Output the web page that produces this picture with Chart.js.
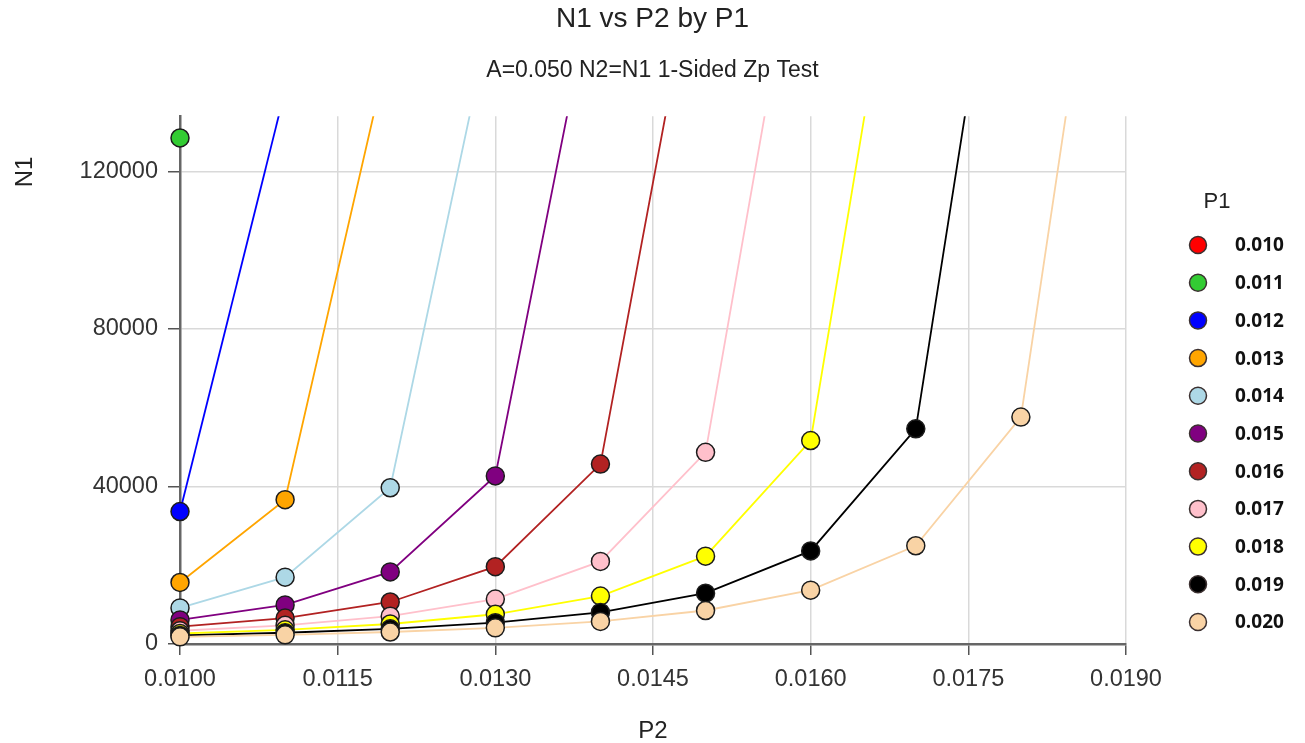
<!DOCTYPE html>
<html>
<head>
<meta charset="utf-8">
<title>N1 vs P2 by P1</title>
<script src="https://cdn.jsdelivr.net/npm/chart.js@4.4.1/dist/chart.umd.min.js"></script>
<style>
  html, body { margin: 0; padding: 0; background: #fff; }
  #wrap { width: 1305px; height: 743px; }
</style>
</head>
<body>
<div id="wrap"><canvas id="chart" width="1305" height="743"></canvas></div>
<script>
/* N1 vs P2 by P1 — one line per P1, N1. */

const p2Values = [0.010, 0.011, 0.012, 0.013, 0.014, 0.015, 0.016, 0.017, 0.018, 0.019];
const p1Labels = ["0.010", "0.011", "0.012", "0.013", "0.014", "0.015", "0.016", "0.017", "0.018", "0.019", "0.020"];
const xTicks = [0.0100, 0.0115, 0.0130, 0.0145, 0.0160, 0.0175, 0.0190];
const yTicks = [0, 40000, 80000, 120000];

// N1 per P2 (same order as p2Values); points past the top run off the plot
const n1_p1_010 = [];
const n1_p1_011 = [128473];
const n1_p1_012 = [33631, 140567];
const n1_p1_013 = [15619, 36651, 152636];
const n1_p1_014 = [9163, 16960, 39665, 164679];
const n1_p1_015 = [6105, 9916, 18298, 42673, 176698];
const n1_p1_016 = [4407, 6587, 10668, 19633, 45675, 188693];
const n1_p1_017 = [3361, 4741, 7068, 11419, 20966, 48670, 200663];
const n1_p1_018 = [2667, 3606, 5075, 7548, 12168, 22296, 51660, 212608];
const n1_p1_019 = [2181, 2855, 3851, 5408, 8027, 12915, 23623, 54643, 224528];
const n1_p1_020 = [1827, 2330, 3042, 4095, 5740, 8504, 13661, 24948, 57620, 236423];

const seriesColors = ["#ff0000", "#33cc33", "#0000ff", "#ffa500", "#add8e6", "#800080",
                      "#b22222", "#ffc0cb", "#ffff00", "#000000", "#f9d3a5"];

const FONT = '"Liberation Sans", Arial, sans-serif';

const series = [n1_p1_010, n1_p1_011, n1_p1_012, n1_p1_013, n1_p1_014, n1_p1_015,
                n1_p1_016, n1_p1_017, n1_p1_018, n1_p1_019, n1_p1_020];

const datasets = series.map((vals, i) => ({
  label: p1Labels[i],
  data: vals.map((y, j) => ({ x: p2Values[j], y })),
  borderColor: seriesColors[i],
  backgroundColor: seriesColors[i],
  pointBackgroundColor: seriesColors[i],
  pointBorderColor: "#1c1c1c",
  pointBorderWidth: 1.5,
  pointRadius: 9,
  borderWidth: 1.8,
  tension: 0,
  order: 20 - i, // later P1 drawn on top
  clip: { left: false, top: 0, right: false, bottom: false },
}));

// legend on the right + rotated "N1" axis title
const sideLabels = {
  id: "sideLabels",
  afterDraw(chart) {
    const ctx = chart.ctx;
    const area = chart.chartArea;
    ctx.save();
    ctx.fillStyle = "#222";
    ctx.font = "22px " + FONT;
    ctx.textAlign = "center";
    ctx.textBaseline = "middle";
    ctx.fillText("P1", area.right + 91, 202);

    chart.data.datasets.forEach((ds, i) => {
      const y = 245 + i * 37.7;
      const cx = area.right + 72;
      ctx.beginPath();
      ctx.arc(cx, y, 8.5, 0, Math.PI * 2);
      ctx.fillStyle = ds.pointBackgroundColor;
      ctx.fill();
      ctx.lineWidth = 1.5;
      ctx.strokeStyle = "#3b3030";
      ctx.stroke();
      ctx.font = 'bold 19px "Open Sans", sans-serif';
      ctx.textAlign = "left";
      ctx.fillStyle = "#111";
      ctx.fillText(ds.label, cx + 37, y + 1);
    });

    ctx.translate(25, 172);
    ctx.rotate(-Math.PI / 2);
    ctx.font = "24px " + FONT;
    ctx.textAlign = "center";
    ctx.fillStyle = "#222";
    ctx.fillText("N1", 0, 0);
    ctx.restore();
  },
};

new Chart(document.getElementById("chart").getContext("2d"), {
  type: "line",
  data: { datasets },
  plugins: [sideLabels],
  options: {
    animation: false,
    responsive: false,
    devicePixelRatio: 1,
    plugins: {
      legend: { display: false },
      tooltip: { enabled: false },
      title: {
        display: true,
        text: "N1 vs P2 by P1",
        color: "#222",
        font: { family: FONT, size: 28, weight: "normal" },
        padding: { top: 2, bottom: 10 },
      },
      subtitle: {
        display: true,
        text: "A=0.050 N2=N1 1-Sided Zp Test",
        color: "#222",
        font: { family: FONT, size: 23 },
        padding: { top: 11, bottom: 32 },
      },
    },
    scales: {
      x: {
        type: "linear",
        min: 0.0100,
        max: 0.0190,
        afterBuildTicks: (axis) => { axis.ticks = xTicks.map((v) => ({ value: v })); },
        afterFit: (axis) => { axis.height = 99; },
        ticks: {
          color: "#333",
          font: { family: FONT, size: 23.5 },
          padding: 10,
          maxRotation: 0,
          callback: (v) => Number(v).toFixed(4),
        },
        grid: { color: "#d9d9d9", lineWidth: 1.5, tickLength: 11, tickColor: "#555", tickWidth: 1.5 },
        border: { color: "#666", width: 2.5 },
        title: {
          display: true,
          text: "P2",
          color: "#222",
          font: { family: FONT, size: 24, lineHeight: 1 },
          padding: { top: 0, bottom: 0 },
        },
      },
      y: {
        min: 0,
        max: 134000,
        afterBuildTicks: (axis) => { axis.ticks = yTicks.map((v) => ({ value: v })); },
        afterFit: (axis) => { axis.width = 180; },
        ticks: {
          color: "#333",
          font: { family: FONT, size: 23.5 },
          padding: 10,
          callback: (v) => String(v),
        },
        grid: { color: "#d9d9d9", lineWidth: 1.5, tickLength: 12, tickColor: "#555", tickWidth: 1.5 },
        border: { color: "#666", width: 2.5 },
      },
      // empty right-hand axis that only reserves room for the P1 legend
      legendSpace: {
        type: "linear",
        position: "right",
        min: 0,
        max: 1,
        afterFit: (axis) => { axis.width = 179; },
        ticks: { display: false },
        grid: { display: false, drawTicks: false },
        border: { display: false },
      },
    },
  },
});
</script>
</body>
</html>
